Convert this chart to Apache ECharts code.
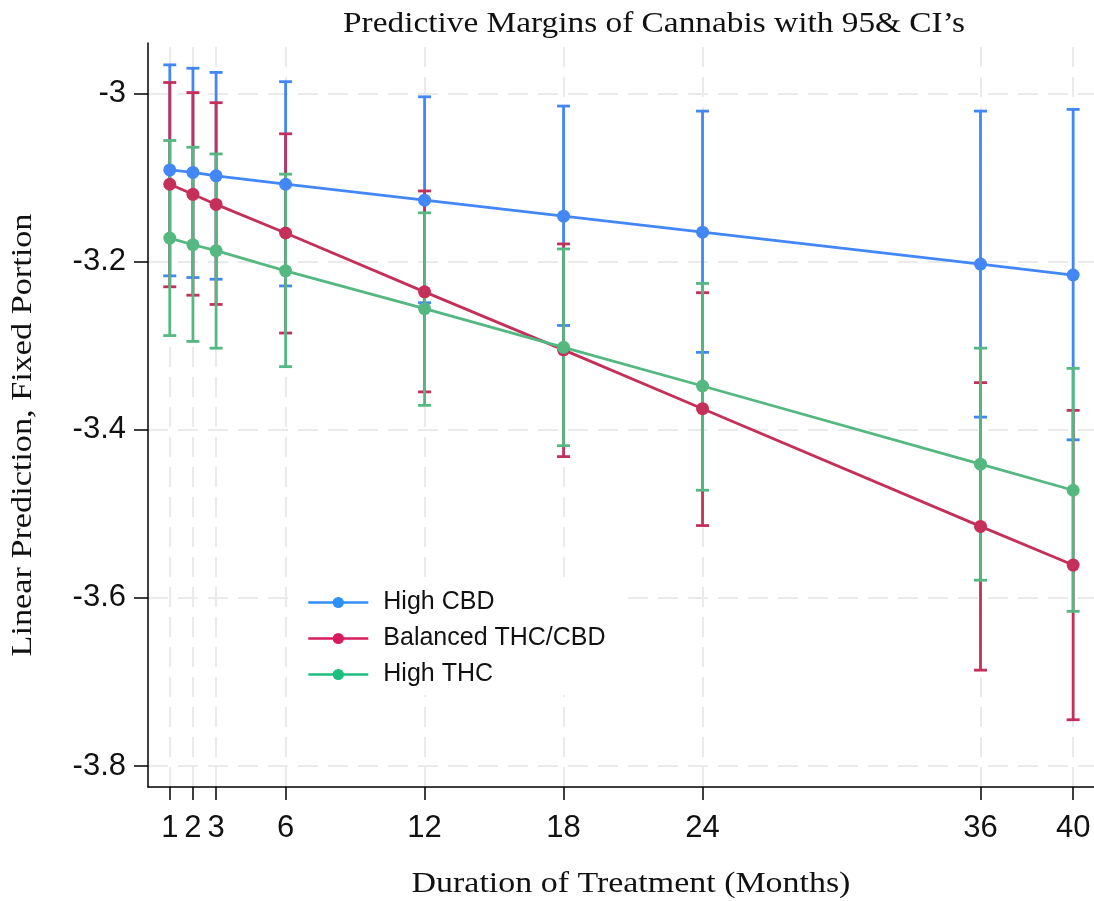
<!DOCTYPE html>
<html>
<head>
<meta charset="utf-8">
<script src="https://cdn.jsdelivr.net/npm/echarts@6/dist/echarts.min.js"></script>
<style>
html,body{margin:0;padding:0;background:#fff;}
#chart{width:1094px;height:901px;}
</style>
</head>
<body>
<div id="chart"></div>
<script>
// ---- data ----
const months = [1, 2, 3, 6, 12, 18, 24, 36, 40];
const yTicks = [-3.8, -3.6, -3.4, -3.2, -3];
const seriesNames = ['High CBD', 'Balanced THC/CBD', 'High THC'];

const cbdMean = [-3.091, -3.094, -3.098, -3.108, -3.127, -3.146, -3.165, -3.203, -3.216];
const cbdLow  = [-3.217, -3.219, -3.221, -3.229, -3.249, -3.276, -3.308, -3.385, -3.412];
const cbdHigh = [-2.966, -2.970, -2.975, -2.986, -3.004, -3.015, -3.021, -3.021, -3.019];

const balMean = [-3.108, -3.120, -3.132, -3.166, -3.236, -3.305, -3.375, -3.515, -3.561];
const balLow  = [-3.230, -3.240, -3.251, -3.285, -3.355, -3.432, -3.514, -3.686, -3.745];
const balHigh = [-2.987, -2.999, -3.011, -3.048, -3.116, -3.179, -3.237, -3.344, -3.377];

const thcMean = [-3.172, -3.180, -3.187, -3.211, -3.256, -3.302, -3.348, -3.441, -3.472];
const thcLow  = [-3.288, -3.295, -3.303, -3.325, -3.371, -3.419, -3.472, -3.579, -3.616];
const thcHigh = [-3.056, -3.064, -3.072, -3.096, -3.142, -3.185, -3.226, -3.303, -3.327];

const lineColors = ['#4287f5', '#c4305a', '#54b880'];
const legendColors = ['#2f8ff7', '#d81b5c', '#1dbf80'];

const means = [cbdMean, balMean, thcMean];
const lows = [cbdLow, balLow, thcLow];
const highs = [cbdHigh, balHigh, thcHigh];

const serifFont = '"Liberation Serif", "DejaVu Serif", serif';
const sansFont = '"Liberation Sans", Arial, sans-serif';

function errRender(color) {
  return function (params, api) {
    const x = api.value(0);
    const lo = api.coord([x, api.value(1)]);
    const hi = api.coord([x, api.value(2)]);
    const hw = 6.5;
    const st = { stroke: color, lineWidth: 2.8 };
    return {
      type: 'group',
      children: [
        { type: 'line', shape: { x1: lo[0], y1: lo[1], x2: hi[0], y2: hi[1] }, style: st },
        { type: 'line', shape: { x1: lo[0] - hw, y1: lo[1], x2: lo[0] + hw, y2: lo[1] }, style: st },
        { type: 'line', shape: { x1: hi[0] - hw, y1: hi[1], x2: hi[0] + hw, y2: hi[1] }, style: st }
      ]
    };
  };
}

const series = [];
// grid lines (dummy series with markLines), kept underneath everything
series.push({
  type: 'line',
  data: [],
  silent: true,
  z: 0,
  zlevel: 0,
  markLine: {
    silent: true,
    symbol: 'none',
    z: 0,
    label: { show: false },
    lineStyle: { color: '#eaeaea', width: 2, type: [20, 10] },
    data: months.map(m => ({ xAxis: m })).concat(yTicks.map(v => ({ yAxis: v })))
  }
});
// error bars
for (let s = 0; s < 3; s++) {
  series.push({
    type: 'custom',
    name: seriesNames[s] + ' CI',
    renderItem: errRender(lineColors[s]),
    data: months.map((m, i) => [m, lows[s][i], highs[s][i]]),
    encode: { x: 0, y: [1, 2] },
    silent: true,
    z: 5 + s
  });
}
// lines
for (let s = 0; s < 3; s++) {
  series.push({
    type: 'line',
    name: seriesNames[s],
    data: months.map((m, i) => [m, means[s][i]]),
    symbol: 'circle',
    symbolSize: 13,
    showSymbol: true,
    lineStyle: { color: lineColors[s], width: 2.8 },
    itemStyle: { color: lineColors[s] },
    silent: true,
    animation: false,
    z: 10 + s
  });
}

const chart = echarts.init(document.getElementById('chart'), null, { renderer: 'canvas' });
chart.setOption({
  animation: false,
  backgroundColor: '#ffffff',
  grid: { left: 148, right: 0, top: 43, bottom: 114, containLabel: false },
  xAxis: {
    type: 'value',
    min: 0.06,
    max: 40.9,
    axisLine: { show: true, lineStyle: { color: '#000', width: 1.5 } },
    axisTick: { show: true, length: 13, customValues: months, lineStyle: { color: '#000', width: 1.5 } },
    axisLabel: { customValues: months, fontSize: 31, fontFamily: sansFont, color: '#111', margin: 26, formatter: v => String(v) },
    splitLine: { show: false }
  },
  yAxis: {
    type: 'value',
    min: -3.825,
    max: -2.94,
    axisLine: { show: true, lineStyle: { color: '#000', width: 1.5 } },
    axisTick: { show: true, length: 14, customValues: yTicks, lineStyle: { color: '#000', width: 1.5 } },
    axisLabel: { customValues: yTicks, fontSize: 31, fontFamily: sansFont, color: '#111', margin: 22, formatter: v => String(v) },
    splitLine: { show: false }
  },
  legend: {
    show: true,
    orient: 'vertical',
    left: 295,
    top: 582,
    padding: [8, 20, 8, 12],
    backgroundColor: '#ffffff',
    z: 20,
    itemWidth: 60,
    itemHeight: 14,
    itemGap: 11,
    data: seriesNames.map((n, i) => ({
      name: n,
      itemStyle: { color: legendColors[i] },
      lineStyle: { color: legendColors[i], width: 2.6 }
    })),
    textStyle: { fontSize: 25, fontFamily: sansFont, color: '#111', lineHeight: 25, padding: [0, 0, 0, 10] }
  },
  graphic: [
    {
      type: 'text', x: 654, y: 24, scaleX: 1.15,
      style: { text: 'Predictive Margins of Cannabis with 95& CI\u2019s', font: '29px ' + serifFont, fill: '#111', textAlign: 'center', textVerticalAlign: 'middle' }
    },
    {
      type: 'text', x: 631, y: 884, scaleX: 1.17,
      style: { text: 'Duration of Treatment (Months)', font: '29px ' + serifFont, fill: '#111', textAlign: 'center', textVerticalAlign: 'middle' }
    },
    {
      type: 'text', x: 23, y: 435, rotation: Math.PI / 2, scaleX: 1.18,
      style: { text: 'Linear Prediction, Fixed Portion', font: '29px ' + serifFont, fill: '#111', textAlign: 'center', textVerticalAlign: 'middle' }
    }
  ],
  series: series
});
</script>
</body>
</html>
